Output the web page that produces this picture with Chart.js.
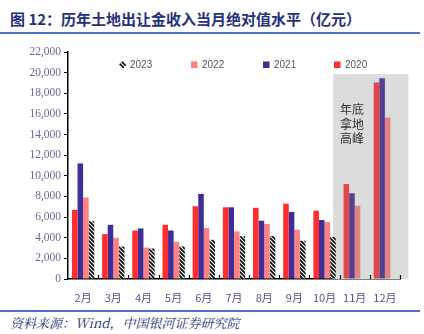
<!DOCTYPE html>
<html lang="zh">
<head>
<meta charset="UTF-8">
<title>历年土地出让金收入当月绝对值水平</title>
<style>
    body {
        margin: 0;
        width: 424px;
        height: 334px;
        background: #ffffff;
        position: relative;
        overflow: hidden;
    }
    .title {
        position: absolute;
        left: 10px;
        top: 10px;
        font: bold 15px "Noto Sans CJK SC", sans-serif;
        color: #26307a;
        line-height: 18px;
        white-space: nowrap;
    }
    .rule {
        position: absolute;
        left: 0;
        width: 420px;
        height: 2px;
        background: #4a72c0;
    }
    .source {
        position: absolute;
        left: 10px;
        top: 313px;
        font: italic 13px "Noto Serif CJK SC", "Noto Sans CJK SC", serif;
        color: #26307a;
        white-space: nowrap;
    }
    #chart-box {
        position: absolute;
        left: 0;
        top: 40px;
        width: 424px;
        height: 268px;
    }
</style>
</head>
<body>
<div class="title">图 12：历年土地出让金收入当月绝对值水平（亿元）</div>
<div class="rule" style="top:32px"></div>
<div id="chart-box"><canvas id="land-chart"></canvas></div>
<div class="rule" style="top:310px"></div>
<div class="source">资料来源：Wind，中国银河证券研究院</div>

<script src="https://cdn.jsdelivr.net/npm/chart.js"></script>
<script>
    // monthly land-sale revenue, 100m yuan
    const months = ['2月', '3月', '4月', '5月', '6月', '7月', '8月', '9月', '10月', '11月', '12月'];
    const y2020 = [6700, 4350, 4700, 5250, 7050, 6950, 6900, 7300, 6620, 9200, 19050];
    const y2021 = [11200, 5250, 4900, 4700, 8250, 6950, 5650, 6500, 5720, 8300, 19450];
    const y2022 = [7900, 4000, 3050, 3600, 4950, 4620, 5350, 4780, 5520, 7100, 15650];
    const y2023 = [5600, 3150, 2950, 3150, 3800, 4150, 4170, 3700, 4070, null, null];
    const yTicks = [0, 2000, 4000, 6000, 8000, 10000, 12000, 14000, 16000, 18000, 20000, 22000];
    const peakNote = ['年底', '拿地', '高峰'];
    const legendOrder = [3, 2, 1, 0];          // 2023 first, 2020 last
    const legendX = [119, 191, 263, 334];

    // bars under the grey band look a bit muted
    function shade(base, muted) {
        return months.map((m, i) => i >= 9 ? muted : base);
    }

    function hatch() {
        const c = document.createElement('canvas');
        c.width = 4;
        c.height = 4;
        const p = c.getContext('2d');
        p.fillStyle = '#ffffff';
        p.fillRect(0, 0, 4, 4);
        p.strokeStyle = '#000000';
        p.lineWidth = 1.6;
        p.beginPath();
        p.moveTo(-1, -1); p.lineTo(5, 5);
        p.moveTo(-1, 3); p.lineTo(1, 5);
        p.moveTo(3, -1); p.lineTo(5, 1);
        p.stroke();
        return p.createPattern(c, 'repeat');
    }

    // grey band behind Nov/Dec, ticks between months, and the legend row
    const bandPlugin = {
        id: 'band',
        beforeDatasetsDraw(chart) {
            const { ctx, chartArea, scales } = chart;
            const x = scales.x, y = scales.y;
            const step = x.getPixelForValue(1) - x.getPixelForValue(0);
            const left = x.getPixelForValue(9) - step * 0.72;
            const right = x.getPixelForValue(10) + step * 0.78;
            const top = y.getPixelForValue(19850);
            ctx.save();
            ctx.fillStyle = '#dcdcdc';
            ctx.fillRect(left, top, right - left, chartArea.bottom - top);
            ctx.fillStyle = '#333333';
            ctx.font = '12px "Noto Sans CJK SC", sans-serif';
            ctx.textBaseline = 'middle';
            peakNote.forEach((t, i) => ctx.fillText(t, left + 7, y.getPixelForValue(16400) + i * 14.5));
            ctx.restore();
        },
        afterDraw(chart) {
            const { ctx, chartArea, scales } = chart;
            const x = scales.x;
            const step = x.getPixelForValue(1) - x.getPixelForValue(0);
            ctx.save();
            ctx.strokeStyle = '#000000';
            ctx.lineWidth = 1.2;
            ctx.beginPath();
            for (let i = 1; i <= months.length; i++) {
                const px = Math.round(x.getPixelForValue(i - 1) + step / 2) + 0.5;
                ctx.moveTo(px, chartArea.bottom);
                ctx.lineTo(px, chartArea.bottom - 4);
            }
            ctx.stroke();

            const ly = chartArea.top + 13;
            ctx.font = '10px "Liberation Sans", sans-serif';
            ctx.textBaseline = 'middle';
            legendOrder.forEach((di, k) => {
                const ds = chart.data.datasets[di];
                const fill = Array.isArray(ds.backgroundColor) ? ds.backgroundColor[0] : ds.backgroundColor;
                const bx = legendX[k];
                ctx.fillStyle = fill;
                if (di === 3) {
                    // hatched diamond, pattern kept axis-aligned
                    const cx = bx + 3.5;
                    ctx.beginPath();
                    ctx.moveTo(cx, ly - 4);
                    ctx.lineTo(cx + 4, ly);
                    ctx.lineTo(cx, ly + 4);
                    ctx.lineTo(cx - 4, ly);
                    ctx.closePath();
                    ctx.fill();
                } else {
                    ctx.fillRect(bx, ly - 3.5, 6.5, 6.5);
                }
                ctx.fillStyle = '#555555';
                ctx.fillText(ds.label, bx + 11, ly);
            });
            ctx.restore();
        }
    };

    const ctx = document.getElementById('land-chart').getContext('2d');
    new Chart(ctx, {
        type: 'bar',
        data: {
            labels: months,
            datasets: [
                { label: '2020', data: y2020, backgroundColor: shade('#ff2d2d', '#e0464c') },
                { label: '2021', data: y2021, backgroundColor: shade('#3f2e98', '#52418f') },
                { label: '2022', data: y2022, backgroundColor: shade('#ff8282', '#e48282') },
                { label: '2023', data: y2023, backgroundColor: hatch() }
            ]
        },
        plugins: [bandPlugin],
        options: {
            responsive: true,
            maintainAspectRatio: false,
            animation: false,
            layout: { padding: { top: 12, right: 24, left: 0, bottom: 0 } },
            datasets: {
                bar: { categoryPercentage: 0.74, barPercentage: 1.0, borderWidth: 0 }
            },
            scales: {
                x: {
                    grid: { display: false },
                    border: { display: true, color: '#000000', width: 1.5 },
                    ticks: {
                        color: '#55558c',
                        font: { family: '"Noto Sans CJK SC", sans-serif', size: 11 },
                        padding: 4,
                        maxRotation: 0,
                        autoSkip: false
                    },
                    afterFit(scale) { scale.height = 29; }
                },
                y: {
                    min: 0,
                    max: 22000,
                    afterBuildTicks(scale) { scale.ticks = yTicks.map(v => ({ value: v })); },
                    grid: { drawOnChartArea: false, drawTicks: true, tickLength: 4, color: '#000000', tickColor: '#000000' },
                    border: { display: true, color: '#000000', width: 1.5 },
                    ticks: {
                        color: '#6a6a9a',
                        padding: 3,
                        font: { family: '"Liberation Serif", serif', size: 11.5 },
                        callback: v => v.toLocaleString('en-US')
                    },
                    afterFit(scale) { scale.width = 68; }
                }
            },
            plugins: {
                legend: { display: false },
                tooltip: { enabled: false }
            }
        }
    });
</script>
</body>
</html>
